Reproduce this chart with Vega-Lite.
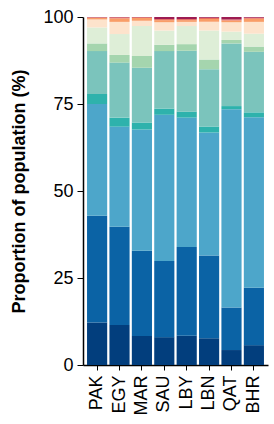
{
  "$schema": "https://vega.github.io/schema/vega-lite/v6.json",
  "width": 185,
  "height": 348,
  "autosize": {"type": "none"},
  "padding": {"left": 83, "top": 17, "right": 6, "bottom": 59},
  "background": "white",
  "config": {"view": {"stroke": null}, "font": "Liberation Sans"},
  "data": {"values": [
    {"c":"PAK","g":"g01","k":1,"v":12.2},{"c":"PAK","g":"g02","k":2,"v":30.7},{"c":"PAK","g":"g03","k":3,"v":32.1},{"c":"PAK","g":"g04","k":4,"v":2.9},{"c":"PAK","g":"g05","k":5,"v":12.3},{"c":"PAK","g":"g06","k":6,"v":2.2},{"c":"PAK","g":"g07","k":7,"v":4.6},{"c":"PAK","g":"g08","k":8,"v":2.3},{"c":"PAK","g":"g09","k":9,"v":0.5},{"c":"PAK","g":"g10","k":10,"v":0.1},{"c":"PAK","g":"g11","k":11,"v":0.1},
    {"c":"EGY","g":"g01","k":1,"v":11.5},{"c":"EGY","g":"g02","k":2,"v":28.2},{"c":"EGY","g":"g03","k":3,"v":28.8},{"c":"EGY","g":"g04","k":4,"v":2.6},{"c":"EGY","g":"g05","k":5,"v":15.8},{"c":"EGY","g":"g06","k":6,"v":2.2},{"c":"EGY","g":"g07","k":7,"v":6.0},{"c":"EGY","g":"g08","k":8,"v":3.5},{"c":"EGY","g":"g09","k":9,"v":1.0},{"c":"EGY","g":"g10","k":10,"v":0.3},{"c":"EGY","g":"g11","k":11,"v":0.1},
    {"c":"MAR","g":"g01","k":1,"v":8.3},{"c":"MAR","g":"g02","k":2,"v":24.5},{"c":"MAR","g":"g03","k":3,"v":34.9},{"c":"MAR","g":"g04","k":4,"v":2.0},{"c":"MAR","g":"g05","k":5,"v":15.7},{"c":"MAR","g":"g06","k":6,"v":3.4},{"c":"MAR","g":"g07","k":7,"v":8.6},{"c":"MAR","g":"g08","k":8,"v":1.5},{"c":"MAR","g":"g09","k":9,"v":0.8},{"c":"MAR","g":"g10","k":10,"v":0.2},{"c":"MAR","g":"g11","k":11,"v":0.1},
    {"c":"SAU","g":"g01","k":1,"v":8.0},{"c":"SAU","g":"g02","k":2,"v":21.9},{"c":"SAU","g":"g03","k":3,"v":42.0},{"c":"SAU","g":"g04","k":4,"v":1.8},{"c":"SAU","g":"g05","k":5,"v":16.5},{"c":"SAU","g":"g06","k":6,"v":1.8},{"c":"SAU","g":"g07","k":7,"v":4.1},{"c":"SAU","g":"g08","k":8,"v":2.4},{"c":"SAU","g":"g09","k":9,"v":0.6},{"c":"SAU","g":"g10","k":10,"v":0.3},{"c":"SAU","g":"g11","k":11,"v":0.6},
    {"c":"LBY","g":"g01","k":1,"v":8.4},{"c":"LBY","g":"g02","k":2,"v":25.5},{"c":"LBY","g":"g03","k":3,"v":37.2},{"c":"LBY","g":"g04","k":4,"v":1.7},{"c":"LBY","g":"g05","k":5,"v":17.5},{"c":"LBY","g":"g06","k":6,"v":1.9},{"c":"LBY","g":"g07","k":7,"v":5.2},{"c":"LBY","g":"g08","k":8,"v":1.2},{"c":"LBY","g":"g09","k":9,"v":0.5},{"c":"LBY","g":"g10","k":10,"v":0.3},{"c":"LBY","g":"g11","k":11,"v":0.6},
    {"c":"LBN","g":"g01","k":1,"v":7.7},{"c":"LBN","g":"g02","k":2,"v":23.8},{"c":"LBN","g":"g03","k":3,"v":35.3},{"c":"LBN","g":"g04","k":4,"v":1.7},{"c":"LBN","g":"g05","k":5,"v":16.5},{"c":"LBN","g":"g06","k":6,"v":2.8},{"c":"LBN","g":"g07","k":7,"v":8.3},{"c":"LBN","g":"g08","k":8,"v":2.5},{"c":"LBN","g":"g09","k":9,"v":0.8},{"c":"LBN","g":"g10","k":10,"v":0.4},{"c":"LBN","g":"g11","k":11,"v":0.2},
    {"c":"QAT","g":"g01","k":1,"v":4.3},{"c":"QAT","g":"g02","k":2,"v":12.2},{"c":"QAT","g":"g03","k":3,"v":57.0},{"c":"QAT","g":"g04","k":4,"v":0.9},{"c":"QAT","g":"g05","k":5,"v":18.0},{"c":"QAT","g":"g06","k":6,"v":1.0},{"c":"QAT","g":"g07","k":7,"v":2.4},{"c":"QAT","g":"g08","k":8,"v":2.7},{"c":"QAT","g":"g09","k":9,"v":0.5},{"c":"QAT","g":"g10","k":10,"v":0.3},{"c":"QAT","g":"g11","k":11,"v":0.7},
    {"c":"BHR","g":"g01","k":1,"v":5.7},{"c":"BHR","g":"g02","k":2,"v":16.5},{"c":"BHR","g":"g03","k":3,"v":49.0},{"c":"BHR","g":"g04","k":4,"v":1.4},{"c":"BHR","g":"g05","k":5,"v":17.4},{"c":"BHR","g":"g06","k":6,"v":1.5},{"c":"BHR","g":"g07","k":7,"v":3.7},{"c":"BHR","g":"g08","k":8,"v":3.4},{"c":"BHR","g":"g09","k":9,"v":0.9},{"c":"BHR","g":"g10","k":10,"v":0.3},{"c":"BHR","g":"g11","k":11,"v":0.2}
  ]},
  "mark": {"type": "bar"},
  "encoding": {
    "x": {
      "field": "c", "type": "nominal",
      "sort": ["PAK","EGY","MAR","SAU","LBY","LBN","QAT","BHR"],
      "scale": {"paddingInner": 0.1, "paddingOuter": 0.18},
      "axis": {"title": null, "labelAngle": -90, "labelFontSize": 18, "labelColor": "black", "labelPadding": 5, "tickColor": "black", "tickSize": 5, "domainColor": "black", "domainWidth": 1.5, "tickWidth": 1}
    },
    "y": {
      "field": "v", "type": "quantitative", "stack": "zero",
      "scale": {"domain": [0, 100], "nice": false},
      "axis": {"title": "Proportion of population (%)", "titleFontSize": 18, "titleFontWeight": "bold", "titleColor": "black", "titleX": -64, "titleY": 174, "titleBaseline": "middle", "titleAngle": -90, "values": [0,25,50,75,100], "labelFontSize": 18, "labelColor": "black", "labelPadding": 4, "tickColor": "black", "tickSize": 6, "domainColor": "black", "domainWidth": 1.5, "grid": false}
    },
    "order": {"field": "k", "type": "quantitative"},
    "color": {
      "field": "g", "type": "nominal", "legend": null,
      "scale": {
        "domain": ["g01","g02","g03","g04","g05","g06","g07","g08","g09","g10","g11"],
        "range": ["#023e7d","#0b63a5","#4da6ca","#2eb2ac","#7bc4bc","#a5d5ae","#deeed7","#fde3cc","#f99d67","#e86b5c","#9d1c52"]
      }
    }
  }
}
